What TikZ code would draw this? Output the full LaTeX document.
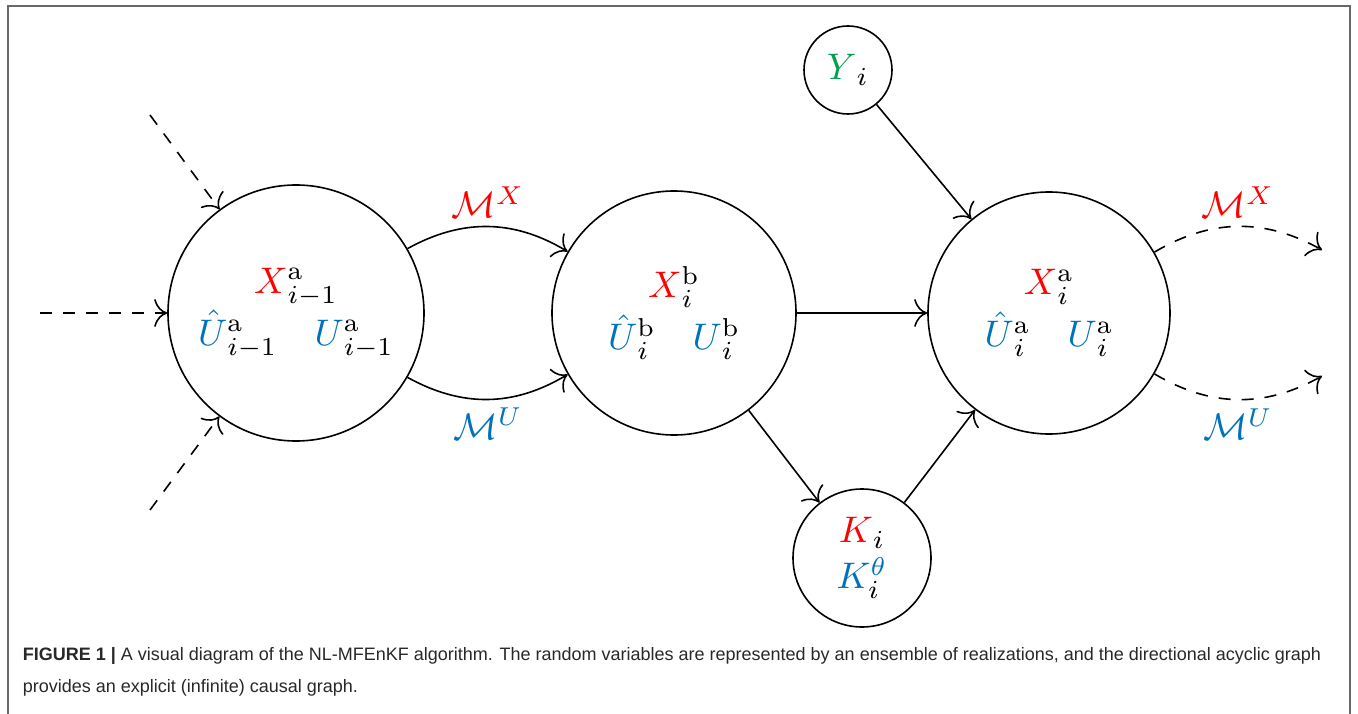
\RequirePackage{fix-cm}
\documentclass[tikz,border=0pt]{standalone}
\usepackage{graphicx}
\usepackage{fontspec}
\newfontfamily\capfont{Liberation Sans}
\usetikzlibrary{arrows.meta}
\definecolor{cred}{RGB}{255,0,0}
\definecolor{cblue}{RGB}{0,114,189}
\definecolor{cgreen}{RGB}{0,160,80}
\definecolor{framecol}{RGB}{105,105,105}
\definecolor{captext}{RGB}{40,40,40}
\newcommand{\mz}[1]{\scalebox{3.7}{$#1$}}
\begin{document}
\begin{tikzpicture}[x=1pt,y=-1pt,line width=1.6pt,
  >={Computer Modern Rightarrow[length=13pt,width=28pt,line width=1.6pt]},
  state/.style={circle,draw,inner sep=0pt,font=\fontsize{10}{52}\selectfont,align=center},
  lab/.style={font=\fontsize{10}{12}\selectfont,inner sep=8pt},
  dasharrow/.style={->,dash pattern=on 12pt off 11pt},
  captionstyle/.style={anchor=base west,inner sep=0pt,text=captext,font=\capfont\fontsize{18}{22}\selectfont}]
\useasboundingbox (0,0) rectangle (1358,714);
\draw[framecol,line width=2pt] (8,714) -- (8,6) -- (1350,6) -- (1350,714);

\node[state,minimum size=256pt] (A) at (296,313)
  {\mz{{\color{cred}X}^{\mathrm{a}}_{i-1}}\\ \mz{{\color{cblue}\hat{U}}^{\mathrm{a}}_{i-1}\quad{\color{cblue}U}^{\mathrm{a}}_{i-1}}};
\node[state,minimum size=244pt] (B) at (674,313)
  {\mz{{\color{cred}X}^{\mathrm{b}}_{i}}\\ \mz{{\color{cblue}\hat{U}}^{\mathrm{b}}_{i}\quad{\color{cblue}U}^{\mathrm{b}}_{i}}};
\node[state,minimum size=242pt] (C) at (1049,313)
  {\mz{{\color{cred}X}^{\mathrm{a}}_{i}}\\ \mz{{\color{cblue}\hat{U}}^{\mathrm{a}}_{i}\quad{\color{cblue}U}^{\mathrm{a}}_{i}}};
\node[state,minimum size=88pt] (Y) at (848,70) {\mz{{\color{cgreen}Y}_i}};
\node[state,minimum size=138pt,font=\fontsize{10}{46}\selectfont] (K) at (862,558)
  {\mz{{\color{cred}K}_i}\\ \mz{{\color{cblue}K^{\theta}_{\color{black}i}}}};

\coordinate (inTL) at (150,115);
\coordinate (inL) at (40,313);
\coordinate (inBL) at (150,510);
\coordinate (outT) at (1322,250);
\coordinate (outB) at (1322,376);

\draw[->] (A) to[bend left=30] node[lab,above,text=cred] {\mz{\mathcal{M}^X}} (B);
\draw[->] (A) to[bend right=30] node[lab,below,text=cblue] {\mz{\mathcal{M}^U}} (B);
\draw[->] (B) -- (C);
\draw[->] (B) -- (K);
\draw[->] (K) -- (C);
\draw[->] (Y) -- (C);
\draw[dasharrow] (inTL) -- (A);
\draw[dasharrow] (inL) -- (A);
\draw[dasharrow] (inBL) -- (A);
\draw[dasharrow] (C.30) to[bend left=30] node[lab,above,text=cred] {\mz{\mathcal{M}^X}} (outT);
\draw[dasharrow] (C.-30) to[bend right=30] node[lab,below,text=cblue] {\mz{\mathcal{M}^U}} (outB);

\node[captionstyle] (cap1) at (22,660) {\textbf{FIGURE 1 |} A visual diagram of the NL-MFEnKF algorithm. The random variables are represented by an ensemble of realizations, and the directional acyclic graph};
\node[captionstyle] (cap2) at (22,692) {provides an explicit (infinite) causal graph.};
\end{tikzpicture}
\end{document}
